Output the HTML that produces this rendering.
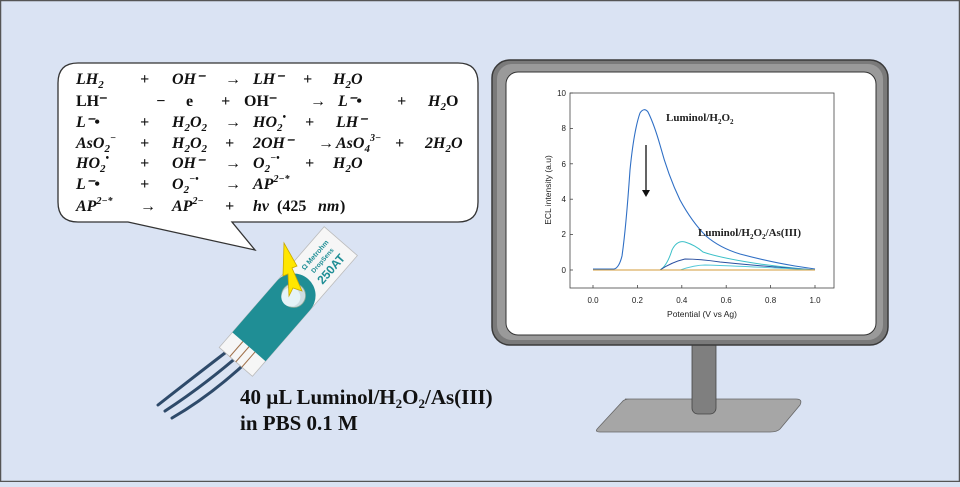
<!DOCTYPE html>
<html><head><meta charset="utf-8"><style>
html,body{margin:0;padding:0;}
body{width:960px;height:482px;overflow:hidden;background:#dae3f3;}
text{font-family:"Liberation Serif",serif;}
.eq text{font-weight:bold;font-style:italic;font-size:16px;fill:#111;}
.eq text.n{font-style:normal;}
.ax text{font-family:"Liberation Sans",sans-serif;font-size:8px;fill:#222;}
.el text{font-family:"Liberation Sans",sans-serif;font-weight:bold;fill:#1f8e95;}
</style></head><body>
<svg width="960" height="482" viewBox="0 0 960 482" xmlns="http://www.w3.org/2000/svg">
<rect x="0.5" y="0.5" width="959" height="481" fill="#dae3f3" stroke="#555" stroke-width="1.5"/>
<path d="M78,63 H458 Q478,63 478,83 V202 Q478,222 458,222 H232 L255,250 L128,222 H78 Q58,222 58,202 V83 Q58,63 78,63 Z" fill="#fff" stroke="#333" stroke-width="1.3"/>
<g class="eq">
<text x="76" y="84">LH<tspan font-size="11" dy="4">2</tspan></text>
<text x="140" y="84">+</text><text x="172" y="84">OH⁻</text><text x="225" y="84">→</text><text x="253" y="84">LH⁻</text><text x="303" y="84">+</text>
<text x="333" y="84">H<tspan font-size="11" dy="4">2</tspan><tspan dy="-4">O</tspan></text>
<text class="n" x="76" y="106">LH⁻</text><text x="156" y="106">−</text><text class="n" x="186" y="106">e</text><text x="221" y="106">+</text><text class="n" x="244" y="106">OH⁻</text><text x="310" y="106">→</text><text x="338" y="106">L⁻•</text><text x="397" y="106">+</text>
<text x="428" y="106">H<tspan font-size="11" dy="4">2</tspan><tspan dy="-4" font-style="normal">O</tspan></text>
<text x="76" y="127">L⁻•</text><text x="140" y="127">+</text>
<text x="172" y="127">H<tspan font-size="11" dy="4">2</tspan><tspan dy="-4">O</tspan><tspan font-size="11" dy="4">2</tspan></text>
<text x="225" y="127">→</text>
<text x="253" y="127">HO<tspan font-size="11" dy="4">2</tspan><tspan font-size="10" dy="-11">•</tspan></text>
<text x="305" y="127">+</text><text x="336" y="127">LH⁻</text>
<text x="76" y="148">AsO<tspan font-size="11" dy="4">2</tspan><tspan font-size="10" dy="-11">−</tspan></text>
<text x="140" y="148">+</text>
<text x="172" y="148">H<tspan font-size="11" dy="4">2</tspan><tspan dy="-4">O</tspan><tspan font-size="11" dy="4">2</tspan></text>
<text x="225" y="148">+</text><text x="253" y="148">2OH⁻</text><text x="318" y="148">→</text>
<text x="336" y="148">AsO<tspan font-size="11" dy="4">4</tspan><tspan font-size="10" dy="-11">3−</tspan></text>
<text x="395" y="148">+</text>
<text x="425" y="148">2H<tspan font-size="11" dy="4">2</tspan><tspan dy="-4">O</tspan></text>
<text x="76" y="168">HO<tspan font-size="11" dy="4">2</tspan><tspan font-size="10" dy="-11">•</tspan></text>
<text x="140" y="168">+</text><text x="172" y="168">OH⁻</text><text x="225" y="168">→</text>
<text x="253" y="168">O<tspan font-size="11" dy="4">2</tspan><tspan font-size="10" dy="-11">−•</tspan></text>
<text x="305" y="168">+</text>
<text x="333" y="168">H<tspan font-size="11" dy="4">2</tspan><tspan dy="-4">O</tspan></text>
<text x="76" y="189">L⁻•</text><text x="140" y="189">+</text>
<text x="172" y="189">O<tspan font-size="11" dy="4">2</tspan><tspan font-size="10" dy="-11">−•</tspan></text>
<text x="225" y="189">→</text>
<text x="253" y="189">AP<tspan font-size="10" dy="-7">2−*</tspan></text>
<text x="76" y="211">AP<tspan font-size="10" dy="-7">2−*</tspan></text>
<text x="140" y="211">→</text>
<text x="172" y="211">AP<tspan font-size="10" dy="-7">2−</tspan></text>
<text x="225" y="211">+</text>
<text x="253" y="211">hν</text><text class="n" x="277" y="211">(425</text><text x="318" y="211">nm</text><text class="n" x="340" y="211">)</text>
</g>
<g stroke="#2e4a6a" stroke-width="3" fill="none" stroke-linecap="round">
<path d="M238,343 Q200,372 158,405"/>
<path d="M245,350 Q205,385 165,411"/>
<path d="M252,357 Q212,395 172,418"/>
</g>
<g class="el" transform="translate(287,303) rotate(-49)">
<rect x="-78" y="-22" width="160" height="44" fill="#f6f6f6" stroke="#bbb" stroke-width="0.8"/>
<g stroke="#a0704a" stroke-width="1"><line x1="-78" y1="-8" x2="-55" y2="-8"/><line x1="-78" y1="0" x2="-55" y2="0"/><line x1="-78" y1="8" x2="-55" y2="8"/></g>
<path d="M-58,-22 H10 A22,22 0 0 1 10,22 H-58 Z" fill="#1f8e95"/>
<circle cx="10" cy="0" r="12" fill="#cfdde2" stroke="#8a9" stroke-width="0.8"/>
<circle cx="7" cy="-1" r="9.5" fill="#e6f3f8"/>
<text x="36" y="-8" style="font-size:7px">Ω Metrohm</text>
<text x="40" y="1" style="font-size:6.5px">DropSens</text>
<text x="37" y="15" style="font-size:12px">250AT</text>
</g>
<polygon points="284,243 297,266 292,268 302,291 293,288 289,296 288,274 283,276" fill="#ffe600" stroke="#c9a800" stroke-width="0.8"/>
<text x="240" y="404" font-size="21" font-weight="bold" fill="#111">40 µL Luminol/H<tspan font-size="13" dy="4">2</tspan><tspan dy="-4">O</tspan><tspan font-size="13" dy="4">2</tspan><tspan dy="-4">/As(III)</tspan></text>
<text x="240" y="430" font-size="21" font-weight="bold" fill="#111">in PBS 0.1 M</text>
<path d="M625,399 H796 Q803,399 800,405 L780,429 Q777,432 770,432 H600 Q594,432 598,428 L622,402 Q624,399 630,399 Z" fill="#a6a6a6" stroke="#666" stroke-width="0.8"/>
<rect x="692" y="340" width="24" height="74" rx="6" fill="#7f7f7f" stroke="#444" stroke-width="0.8"/>
<rect x="492" y="60" width="396" height="285" rx="18" fill="#7a7a7a" stroke="#3a3a3a" stroke-width="1.5"/>
<rect x="497" y="64" width="386" height="276" rx="15" fill="#9a9a9a"/>
<rect x="506" y="72" width="370" height="263" rx="12" fill="#fff" stroke="#333" stroke-width="1"/>
<rect x="570" y="93" width="264" height="195" fill="none" stroke="#444" stroke-width="0.8"/>
<g class="ax" text-anchor="end">
<text x="566" y="96">10</text><text x="566" y="131">8</text><text x="566" y="167">6</text><text x="566" y="202">4</text><text x="566" y="237">2</text><text x="566" y="273">0</text>
</g>
<g stroke="#444" stroke-width="0.8">
<line x1="570" y1="93" x2="573" y2="93"/><line x1="570" y1="128.4" x2="573" y2="128.4"/><line x1="570" y1="163.8" x2="573" y2="163.8"/><line x1="570" y1="199.2" x2="573" y2="199.2"/><line x1="570" y1="234.6" x2="573" y2="234.6"/><line x1="570" y1="270" x2="573" y2="270"/>
<line x1="593" y1="288" x2="593" y2="285"/><line x1="637.4" y1="288" x2="637.4" y2="285"/><line x1="681.8" y1="288" x2="681.8" y2="285"/><line x1="726.2" y1="288" x2="726.2" y2="285"/><line x1="770.6" y1="288" x2="770.6" y2="285"/><line x1="815" y1="288" x2="815" y2="285"/>
</g>
<g class="ax" text-anchor="middle">
<text x="593" y="303">0.0</text><text x="637.4" y="303">0.2</text><text x="681.8" y="303">0.4</text><text x="726.2" y="303">0.6</text><text x="770.6" y="303">0.8</text><text x="815" y="303">1.0</text>
<text x="702" y="317" style="font-size:8.5px">Potential (V vs Ag)</text>
<text transform="translate(551,190) rotate(-90)" style="font-size:8.5px">ECL intensity (a.u)</text>
</g>
<path d="M593,269 L614,269 Q619,268 622,256 Q626,228 630,170 Q634,130 640,113 Q644,107 648,112 Q654,124 660,145 Q668,175 680,200 Q692,222 706,236 Q720,248 740,254 Q770,262 795,266 L815,269" fill="none" stroke="#2f6fc5" stroke-width="1.1"/>
<path d="M593,270 L660,270 Q667,266 672,250 Q677,240 685,242 Q695,245 703,252 Q720,258 760,264 Q790,268 815,270" fill="none" stroke="#3cc0c8" stroke-width="1"/>
<path d="M593,270 L660,270 Q672,262 685,259 Q700,259 720,262 Q770,267 815,270" fill="none" stroke="#2a4fa0" stroke-width="1"/>
<path d="M593,270 L680,270 Q695,265 705,265 Q740,266 815,270" fill="none" stroke="#52c8d8" stroke-width="0.9"/>
<path d="M593,270 L815,270" stroke="#d39b3a" stroke-width="0.9"/>
<line x1="646" y1="145" x2="646" y2="193" stroke="#111" stroke-width="1.3"/>
<polygon points="642,190 650,190 646,197" fill="#111"/>
<text x="666" y="121" font-size="11" font-weight="bold" fill="#222">Luminol/H<tspan font-size="7" dy="3">2</tspan><tspan dy="-3">O</tspan><tspan font-size="7" dy="3">2</tspan></text>
<text x="698" y="236" font-size="11" font-weight="bold" fill="#222">Luminol/H<tspan font-size="7" dy="3">2</tspan><tspan dy="-3">O</tspan><tspan font-size="7" dy="3">2</tspan><tspan dy="-3">/As(III)</tspan></text>
</svg>
</body></html>
